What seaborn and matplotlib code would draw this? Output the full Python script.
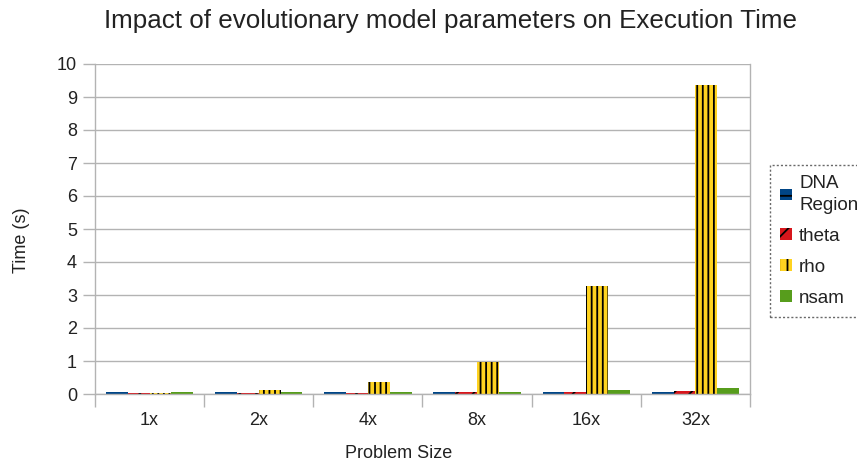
import numpy as np
import pandas as pd
import matplotlib
matplotlib.use("Agg")
import matplotlib.pyplot as plt
import seaborn as sns
from matplotlib.patches import Patch

sizes = ["1x", "2x", "4x", "8x", "16x", "32x"]
series = ["DNA\nRegion", "theta", "rho", "nsam"]
dna_region = [0.05, 0.05, 0.05, 0.05, 0.05, 0.05]
theta = [0.04, 0.04, 0.04, 0.05, 0.07, 0.09]
rho = [0.03, 0.13, 0.35, 0.97, 3.27, 9.37]
nsam = [0.05, 0.07, 0.07, 0.07, 0.12, 0.19]
yticks = list(range(0, 11))

colors = ["#004586", "#d7161c", "#ffd320", "#579d1c"]
bar_hatches = ["", "//", "|||", ""]
legend_hatches = ["--", "//", "||", ""]

df = pd.DataFrame({
    "size": sizes * 4,
    "series": sum([[s] * len(sizes) for s in series], []),
    "time": dna_region + theta + rho + nsam,
})

sns.set_theme(style="white")
plt.rcParams["font.family"] = ["Liberation Sans", "DejaVu Sans"]
plt.rcParams["hatch.linewidth"] = 1.3

fig = plt.figure(figsize=(8.57, 4.61), dpi=100)
ax = fig.add_axes([95 / 857, 67 / 461, (750 - 95) / 857, (394 - 64) / 461])

sns.barplot(data=df, x="size", y="time", hue="series", order=sizes,
            hue_order=series, palette=colors, width=0.8, gap=0,
            ax=ax, legend=False, saturation=1)

for cont, h in zip(ax.containers, bar_hatches):
    for bar in cont:
        bar.set_hatch(h)
        bar.set_edgecolor("black")
        bar.set_linewidth(0)

ax.set_ylim(0, 10)
ax.set_yticks(yticks)
ax.set_xlim(-0.5, len(sizes) - 0.5)
ax.yaxis.grid(True, color="#b3b3b3", linewidth=1)
ax.set_axisbelow(True)
for side in ["left", "right", "bottom"]:
    ax.spines[side].set_visible(True)
    ax.spines[side].set_color("#b3b3b3")
    ax.spines[side].set_linewidth(1)
ax.spines["top"].set_visible(False)

ax.tick_params(axis="y", length=9, color="#b3b3b3", width=1, labelsize=13,
               labelcolor="#222222", pad=4, left=True)
ax.tick_params(axis="x", which="major", length=0, labelsize=13,
               labelcolor="#222222", pad=13)
ax.set_xticks(np.arange(-0.5, len(sizes)), minor=True)
ax.tick_params(axis="x", which="minor", length=9, color="#b3b3b3", width=1,
               bottom=True)

ax.set_xlabel("Problem Size", fontsize=13, color="#222222")
ax.set_ylabel("Time (s)", fontsize=13, color="#222222")
ax_w = 750 - 95
ax_h = 394 - 64
ax.xaxis.set_label_coords((399 - 95) / ax_w, -(453 - 394) / ax_h)
ax.yaxis.set_label_coords(-(95 - 21) / ax_w, (394 - 240) / ax_h)
ax.xaxis.label.set_va("center")
ax.yaxis.label.set_va("center")

fig.text(450 / 857, 1 - 21 / 461,
         "Impact of evolutionary model parameters on Execution Time",
         ha="center", va="center", fontsize=18.7, color="#222222")

handles = [Patch(facecolor=c, edgecolor="black", linewidth=0, hatch=h)
           for c, h in zip(colors, legend_hatches)]
leg = fig.legend(handles, series, loc="upper left",
                 bbox_to_anchor=(770 / 857, 1 - 165 / 461),
                 frameon=True, fontsize=13.5, handlelength=0.6, handleheight=0.6,
                 handletextpad=0.4, borderpad=0.55, labelspacing=0.75,
                 fancybox=False, borderaxespad=0)
for t in leg.get_texts():
    t.set_linespacing(1.35)
    t.set_color("#222222")
frame = leg.get_frame()
frame.set_edgecolor("#444444")
frame.set_linestyle((0, (1.5, 1.5)))
frame.set_linewidth(1)

fig.savefig("out.png", dpi=100)
